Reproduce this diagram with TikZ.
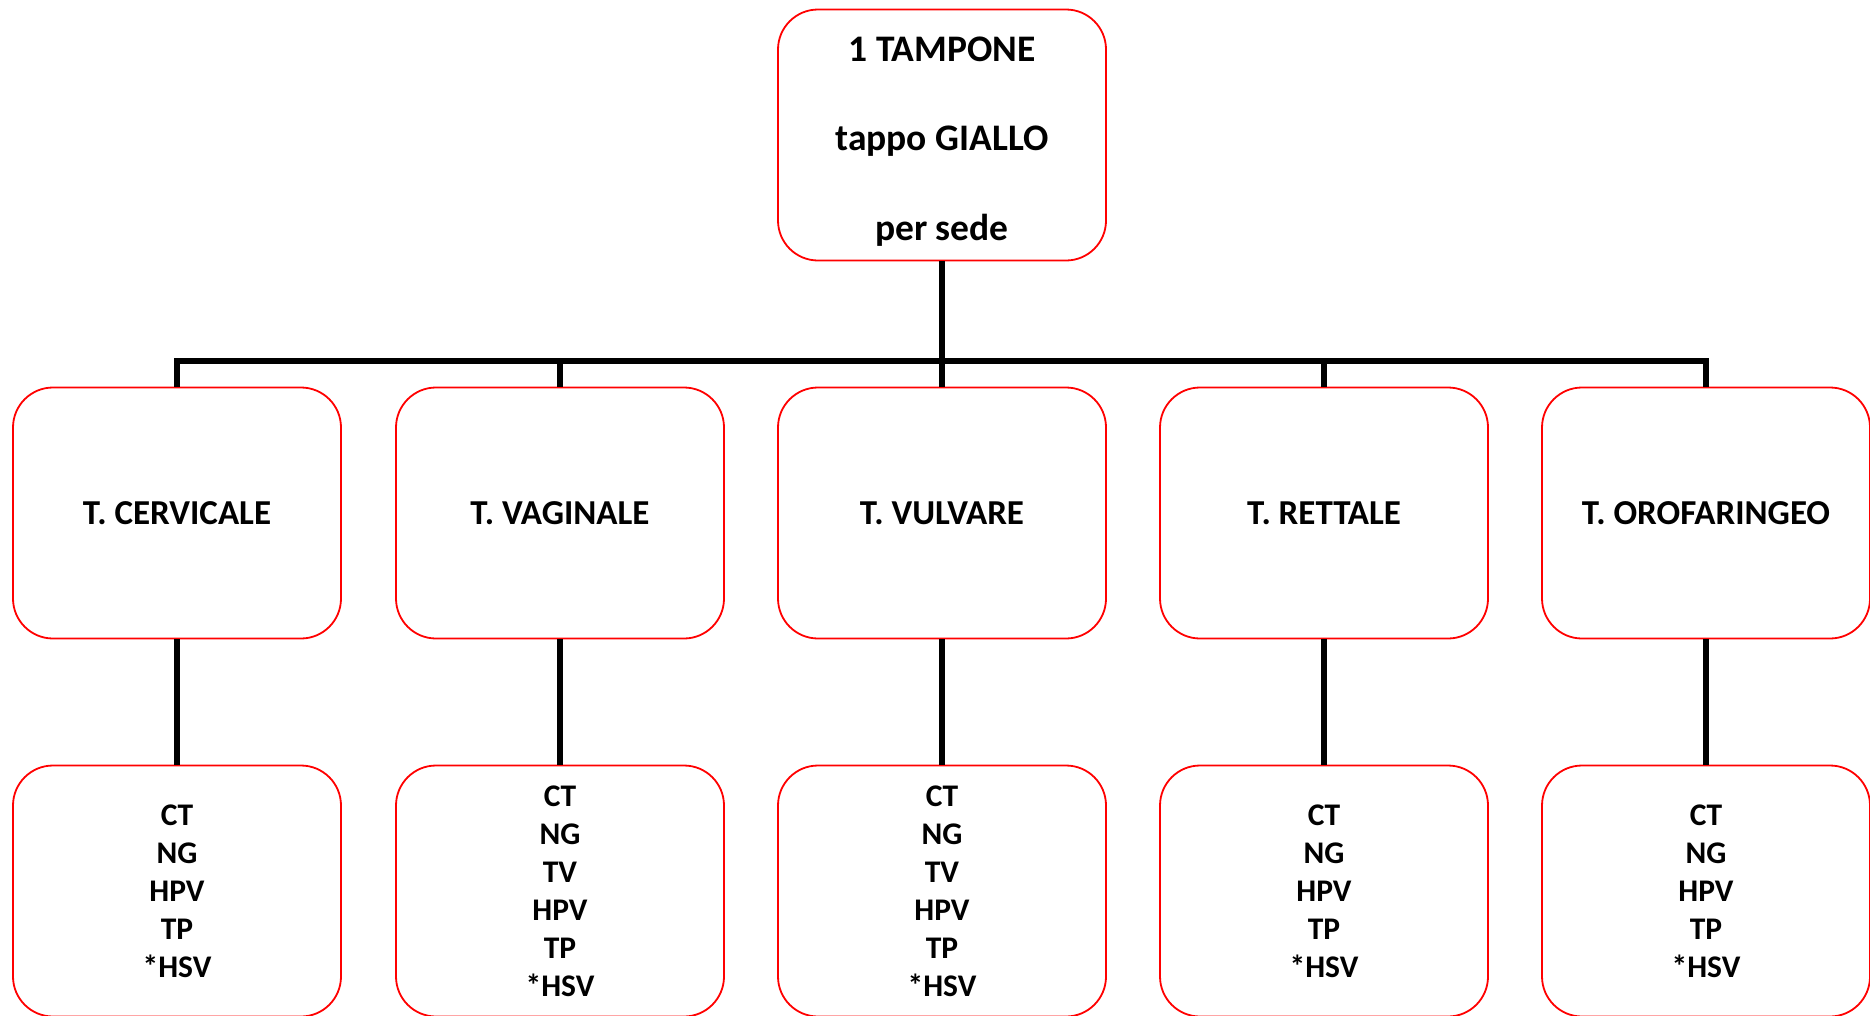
\documentclass[tikz,border=0pt]{standalone}
\usepackage{fontspec}
\setmainfont{Carlito}
\begin{document}
\begin{tikzpicture}[x=1pt,y=-1pt,
  box/.style={draw=red, line width=1.8pt, rounded corners=40pt, rectangle,
    minimum width=328pt, minimum height=251pt, inner sep=0pt, align=center,
    font=\bfseries\fontsize{35}{38}\selectfont},
  leaf/.style={box, font=\bfseries\fontsize{31.5}{38}\selectfont},
  conn/.style={draw=black, line width=5.5pt}]
\useasboundingbox (0,0) rectangle (1870,1015);
\node[box, font=\bfseries\fontsize{37.5}{89.5}\selectfont] (top) at (942,135) {\rule{0pt}{37pt}1 TAMPONE\\tappo GIALLO\\per sede};
\node[box] (m1) at (177,513) {T. CERVICALE};
\node[box] (m2) at (560,513) {T. VAGINALE};
\node[box] (m3) at (942,513) {T. VULVARE};
\node[box] (m4) at (1324,513) {T. RETTALE};
\node[box] (m5) at (1706,513) {T. OROFARINGEO};
\node[leaf] (b1) at (177,891) {CT\\NG\\HPV\\TP\\*HSV};
\node[leaf] (b2) at (560,891) {CT\\NG\\TV\\HPV\\TP\\*HSV};
\node[leaf] (b3) at (942,891) {CT\\NG\\TV\\HPV\\TP\\*HSV};
\node[leaf] (b4) at (1324,891) {CT\\NG\\HPV\\TP\\*HSV};
\node[leaf] (b5) at (1706,891) {CT\\NG\\HPV\\TP\\*HSV};
\coordinate (bus) at (942,361);
\draw[conn] (top.south) -- (m3.north);
\draw[conn] (m1.north) -- (m1.north |- bus) -- (m5.north |- bus) -- (m5.north);
\draw[conn] (m2.north) -- (m2.north |- bus);
\draw[conn] (m4.north) -- (m4.north |- bus);
\foreach \i in {1,...,5} {\draw[conn] (m\i.south) -- (b\i.north);}
\end{tikzpicture}
\end{document}
